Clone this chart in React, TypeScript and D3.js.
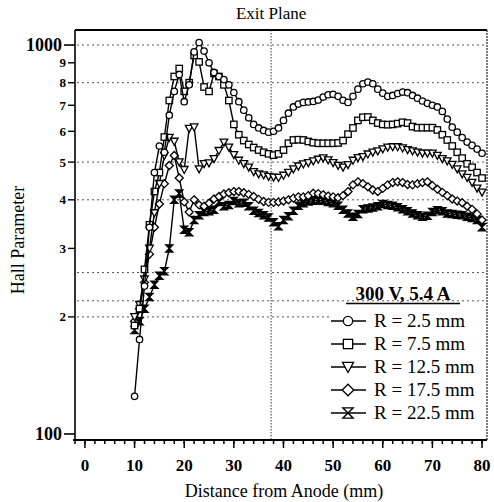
import React from 'react';
import * as d3 from 'd3';

const distance = [10,11,12,13,14,15,16,17,18,19,20,21,22,23,24,25,26,27,28,29,30,31,32,33,34,35,36,37,38,39,40,41,42,43,44,45,46,47,48,49,50,51,52,53,54,55,56,57,58,59,60,61,62,63,64,65,66,67,68,69,70,71,72,73,74,75,76,77,78,79,80];

const r25 = [125,175,240,340,470,550,530,660,760,840,
  715,790,960,1015,965,900,850,830,815,790,
  755,715,680,650,625,612,603,597,600,612,
  640,668,693,705,712,714,716,722,735,745,
  747,738,721,712,738,770,795,803,795,770,
  752,738,742,750,757,754,742,730,718,708,
  700,693,675,645,615,597,578,563,552,540,
  527];
const r75 = [190,210,265,345,420,470,580,720,830,870,
  760,800,940,905,780,760,845,830,790,720,
  625,588,568,555,545,537,530,525,521,525,
  537,559,570,571,570,565,561,559,559,559,
  559,560,568,590,612,640,652,653,640,630,
  625,624,625,628,633,630,617,613,613,613,
  613,605,588,570,550,530,512,495,485,470,
  455];
const r125 = [200,215,250,300,370,440,520,578,565,500,
  478,610,615,480,495,497,510,535,562,546,
  522,505,495,485,472,466,463,459,457,456,
  462,470,480,488,494,498,503,508,512,506,
  498,490,485,492,505,513,516,524,530,534,
  540,546,547,547,543,538,534,530,527,527,
  527,520,510,503,493,480,466,456,443,428,
  418];
const r175 = [195,210,245,290,340,390,440,490,520,455,
  395,372,400,388,385,392,402,408,414,417,
  420,420,417,413,408,401,396,394,394,395,
  397,400,404,407,407,410,416,415,412,409,
  407,405,410,420,437,445,440,432,424,420,
  428,437,443,445,443,438,437,440,443,445,
  435,426,418,410,402,397,393,385,378,368,
  355];
const r225 = [185,195,210,225,242,255,262,300,400,415,
  335,330,355,365,372,374,377,395,385,388,
  397,392,393,385,375,370,365,360,350,342,
  355,363,375,386,392,396,398,399,398,395,
  392,386,377,369,362,368,378,380,382,385,
  390,388,386,383,378,374,369,365,362,364,
  372,376,374,369,368,366,365,362,359,355,
  340];

const seriesLabels = ['R = 2.5 mm', 'R = 7.5 mm', 'R = 12.5 mm', 'R = 17.5 mm', 'R = 22.5 mm'];
const seriesMarkers = ['circle', 'square', 'triangle', 'diamond', 'hourglass'];
const seriesValues = [r25, r75, r125, r175, r225];
const legendTitle = '300 V, 5.4 A';

const xTicks = [0,10,20,30,40,50,60,70,80];
const xMinorTicks = [-2,0,2,4,6,8,10,12,14,16,18,20,22,24,26,28,30,32,34,36,38,40,42,44,46,48,50,52,54,56,58,60,62,64,66,68,70,72,74,76,78,80];
const yMajorTicks = [100, 1000];
const yMinorTicks = [200,300,400,500,600,700,800,900];
const yMinorLabels = ['2','3','4','5','6','7','8','9'];
const gridValues = [1000, 800, 500, 400, 260, 220, 200];
const exitPlane = 37.5;

const W = 494, H = 502;
const left = 75, right = 487, top = 30, bottom = 440;

const x = d3.scaleLinear().domain([-2, 81]).range([left, right]);
const y = d3.scaleLog().domain([96.5, 1093]).range([bottom, top]);

const serif = "'Liberation Serif', 'Times New Roman', 'DejaVu Serif', serif";
const ts = { fontFamily: serif };

function Marker({ type, cx, cy, s = 1, dark = false }: { type: string; cx: number; cy: number; s?: number; dark?: boolean }) {
  const common = { fill: dark ? 'black' : 'white', stroke: 'black', strokeWidth: 1.3 };
  if (type === 'circle') return <circle cx={cx} cy={cy} r={3.2 * s} {...common} />;
  if (type === 'square') return <rect x={cx - 3.2 * s} y={cy - 3.2 * s} width={6.4 * s} height={6.4 * s} {...common} />;
  let d = '';
  if (type === 'triangle') d = `M${-3.8 * s},${-3.2 * s}L${3.8 * s},${-3.2 * s}L0,${3.8 * s}Z`;
  if (type === 'diamond') d = `M0,${-4 * s}L${4 * s},0L0,${4 * s}L${-4 * s},0Z`;
  if (type === 'hourglass') d = `M${-3.6 * s},${-3.6 * s}L${3.6 * s},${-3.6 * s}L${-3.6 * s},${3.6 * s}L${3.6 * s},${3.6 * s}Z`;
  return <path d={d} transform={`translate(${cx},${cy})`} {...common} />;
}

export default function App() {
  const line = d3.line<number>().x((_, i) => x(distance[i])).y((v) => y(v));
  const order = [4, 3, 2, 1, 0];
  const legendY = [321, 344, 367, 390, 413];
  return (
    <svg width={W} height={H} style={{ position: 'absolute', left: 0, top: 0, background: 'white' }}>
      <rect x={0} y={0} width={W} height={H} fill="white" />
      {gridValues.map((g) => (
        <line key={g} x1={left + 2} x2={right - 2} y1={y(g)} y2={y(g)} stroke="#555" strokeWidth={1} strokeDasharray="2,3" />
      ))}
      <line x1={x(exitPlane)} x2={x(exitPlane)} y1={top} y2={bottom} stroke="#333" strokeWidth={1} strokeDasharray="1.5,1.5" />
      <text x={x(exitPlane)} y={19} textAnchor="middle" fontSize={17} style={ts}>Exit Plane</text>
      <line x1={left} x2={right} y1={top} y2={top} stroke="black" strokeWidth={1.8} />
      <line x1={right} x2={right} y1={top} y2={bottom} stroke="#222" strokeWidth={1.2} strokeDasharray="2,1" />
      <line x1={left} x2={left} y1={top} y2={bottom} stroke="black" strokeWidth={1.6} />
      <line x1={left - 2} x2={right} y1={bottom} y2={bottom} stroke="black" strokeWidth={1.8} />
      {xMinorTicks.map((t) => (
        <line key={'m' + t} x1={x(t)} x2={x(t)} y1={bottom} y2={bottom + 4} stroke="black" strokeWidth={1.5} />
      ))}
      {xTicks.map((t) => (
        <g key={'x' + t}>
          <line x1={x(t)} x2={x(t)} y1={bottom} y2={bottom + 8} stroke="black" strokeWidth={1.5} />
          <text x={x(t)} y={471} textAnchor="middle" fontSize={17} fontWeight="bold" style={ts}>{t}</text>
        </g>
      ))}
      {yMajorTicks.map((t) => (
        <g key={'y' + t}>
          <line x1={left - 11} x2={left} y1={y(t)} y2={y(t)} stroke="black" strokeWidth={1.6} />
          <text x={left - 13} y={y(t) + 6} textAnchor="end" fontSize={18} fontWeight="bold" style={ts}>{t}</text>
        </g>
      ))}
      {yMinorTicks.map((t, i) => (
        <g key={'ym' + t}>
          <line x1={left - 7} x2={left} y1={y(t)} y2={y(t)} stroke="black" strokeWidth={1.4} />
          <text x={left - 9} y={y(t) + 4.5} textAnchor="end" fontSize={13} fontWeight="bold" style={ts}>{yMinorLabels[i]}</text>
        </g>
      ))}
      <text x={284} y={497} textAnchor="middle" fontSize={18} style={ts}>Distance from Anode (mm)</text>
      <text transform="translate(24,240) rotate(-90)" textAnchor="middle" fontSize={18} style={ts}>Hall Parameter</text>
      {order.map((si) => (
        <g key={'s' + si}>
          <path d={line(seriesValues[si]) || ''} fill="none" stroke="black" strokeWidth={1.4} />
          {seriesValues[si].map((v, i) => (
            <Marker key={i} type={seriesMarkers[si]} cx={x(distance[i])} cy={y(v)} dark={si === 4} />
          ))}
        </g>
      ))}
      <rect x={329} y={306} width={155} height={118} fill="white" />
      <text x={403} y={300} textAnchor="middle" fontSize={19} fontWeight="bold" style={ts}>{legendTitle}</text>
      <line x1={346} x2={460} y1={303.5} y2={303.5} stroke="black" strokeWidth={1.5} />
      {seriesLabels.map((lab, i) => (
        <g key={'l' + i}>
          <line x1={331} x2={366} y1={legendY[i]} y2={legendY[i]} stroke="black" strokeWidth={1.4} />
          <Marker type={seriesMarkers[i]} cx={348} cy={legendY[i]} s={1.45} />
          <text x={374} y={legendY[i] + 6} fontSize={19} style={ts}>{lab}</text>
        </g>
      ))}
    </svg>
  );
}
